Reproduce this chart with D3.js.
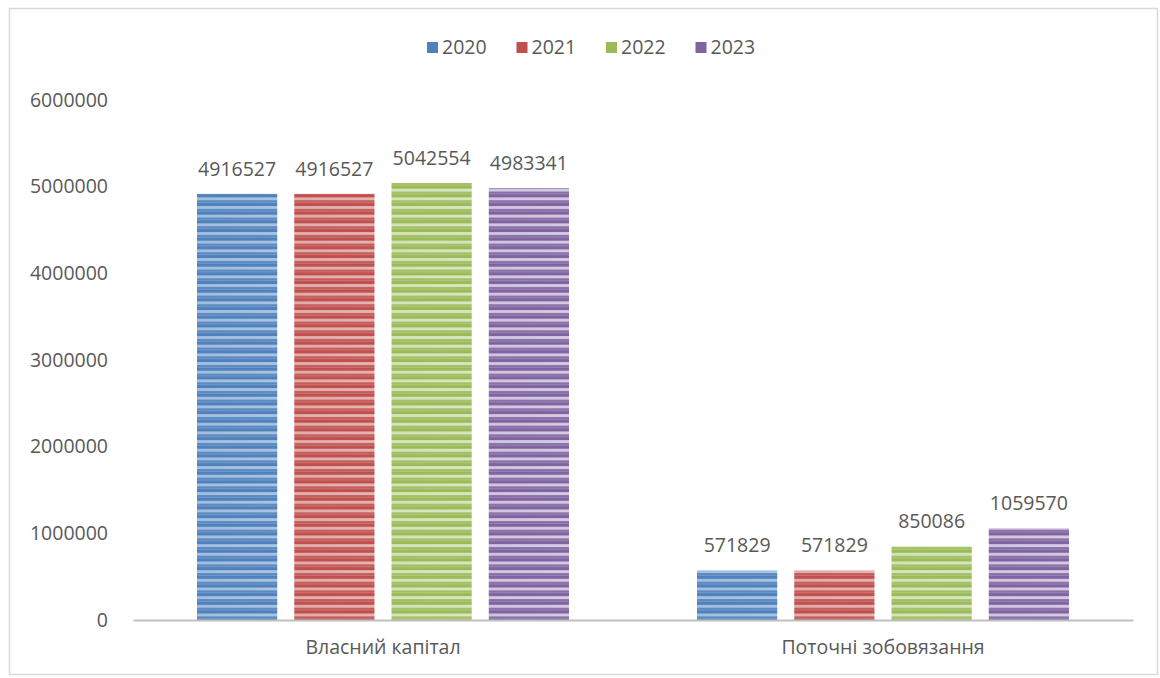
<!DOCTYPE html>
<html>
<head>
<meta charset="utf-8">
<script src="https://cdn.jsdelivr.net/npm/d3@7"></script>
<style>
  body { margin: 0; background: #fff; }
  text { font-family: "Open Sans", "DejaVu Sans", sans-serif; fill: #595959; }
</style>
</head>
<body>
<div id="chart"></div>
<script>
// chart data
const categories = ["Власний капітал", "Поточні зобовязання"];
const years = ["2020", "2021", "2022", "2023"];
const values2020 = [4916527, 571829];
const values2021 = [4916527, 571829];
const values2022 = [5042554, 850086];
const values2023 = [4983341, 1059570];
const yTicks = [0, 1000000, 2000000, 3000000, 4000000, 5000000, 6000000];
const colors = ["#4F81BD", "#C0504D", "#9BBB59", "#8064A2"];

const series = [values2020, values2021, values2022, values2023];

const W = 1160, H = 678;
const margin = {top: 100, right: 27, bottom: 58, left: 133};
const width = W - margin.left - margin.right;
const height = H - margin.top - margin.bottom;
const fs = "19.5px";

const svg = d3.select("#chart").append("svg")
    .attr("width", W).attr("height", H);

// outer frame
svg.append("rect").attr("x", 9.5).attr("y", 8.5).attr("width", W - 12).attr("height", H - 12)
    .attr("fill", "none").attr("stroke", "#d9d9d9").attr("stroke-width", 1.5);

// striped fills
const defs = svg.append("defs");
colors.forEach((c, i) => {
    const mix = t => d3.interpolateRgb(c, "#ffffff")(t);
    const grad = defs.append("linearGradient").attr("id", "g" + i)
        .attr("x1", "0").attr("x2", "1").attr("y1", "0").attr("y2", "0");
    grad.append("stop").attr("offset", "0%").attr("stop-color", mix(0.45));
    grad.append("stop").attr("offset", "50%").attr("stop-color", mix(0.75));
    grad.append("stop").attr("offset", "100%").attr("stop-color", mix(0.4));
    const p = defs.append("pattern").attr("id", "p" + i)
        .attr("patternUnits", "userSpaceOnUse").attr("width", 1160).attr("height", 8.67);
    p.append("rect").attr("width", 1160).attr("height", 8.67).attr("fill", c);
    p.append("rect").attr("y", 2).attr("width", 1160).attr("height", 3).attr("fill", "url(#g" + i + ")");
    p.append("rect").attr("y", 6.5).attr("width", 1160).attr("height", 1).attr("fill", mix(0.25));
});

const g = svg.append("g").attr("transform", `translate(${margin.left},${margin.top})`);

const x0 = d3.scaleBand().domain(categories).range([0, width]).paddingInner(0).paddingOuter(0);
const x1 = d3.scaleBand().domain(years).range([64, x0.bandwidth() - 64]).paddingInner(0.175).paddingOuter(0);
const y = d3.scaleLinear().domain([0, 6000000]).range([height, 0]);

// y axis labels
const yAxis = g.append("g").call(d3.axisLeft(y).tickValues(yTicks).tickSize(0).tickPadding(25).tickFormat(d3.format("d")));
yAxis.select(".domain").remove();
yAxis.selectAll("text").style("font-size", fs).attr("fill", "#595959");

// bars
const groups = g.selectAll(".grp").data(categories).join("g")
    .attr("transform", d => `translate(${x0(d)},0)`);

groups.each(function(cat, ci) {
    const gg = d3.select(this);
    years.forEach((yr, si) => {
        const v = series[si][ci];
        gg.append("rect")
            .attr("x", x1(yr)).attr("y", y(v))
            .attr("width", x1.bandwidth()).attr("height", height - y(v))
            .attr("fill", `url(#p${si})`);
        gg.append("text")
            .attr("x", x1(yr) + x1.bandwidth() / 2).attr("y", y(v) - 25)
            .attr("text-anchor", "middle").attr("dy", "0.35em")
            .style("font-size", fs).text(v);
    });
});

// x axis
const xAxis = g.append("g").attr("transform", `translate(0,${height})`)
    .call(d3.axisBottom(x0).tickSize(0).tickPadding(20));
xAxis.select(".domain").attr("stroke", "#bfbfbf").attr("stroke-width", 2);
xAxis.selectAll("text").style("font-size", fs).attr("fill", "#595959");

// legend
const legend = svg.append("g").attr("transform", "translate(427,47)");
years.forEach((yr, i) => {
    const lg = legend.append("g").attr("transform", `translate(${i * 89.5},0)`);
    lg.append("rect").attr("x", 0).attr("y", -5).attr("width", 11).attr("height", 11).attr("fill", colors[i]);
    lg.append("text").attr("x", 15).attr("y", 0).attr("dy", "0.35em")
        .style("font-size", fs).text(yr);
});
</script>
</body>
</html>
